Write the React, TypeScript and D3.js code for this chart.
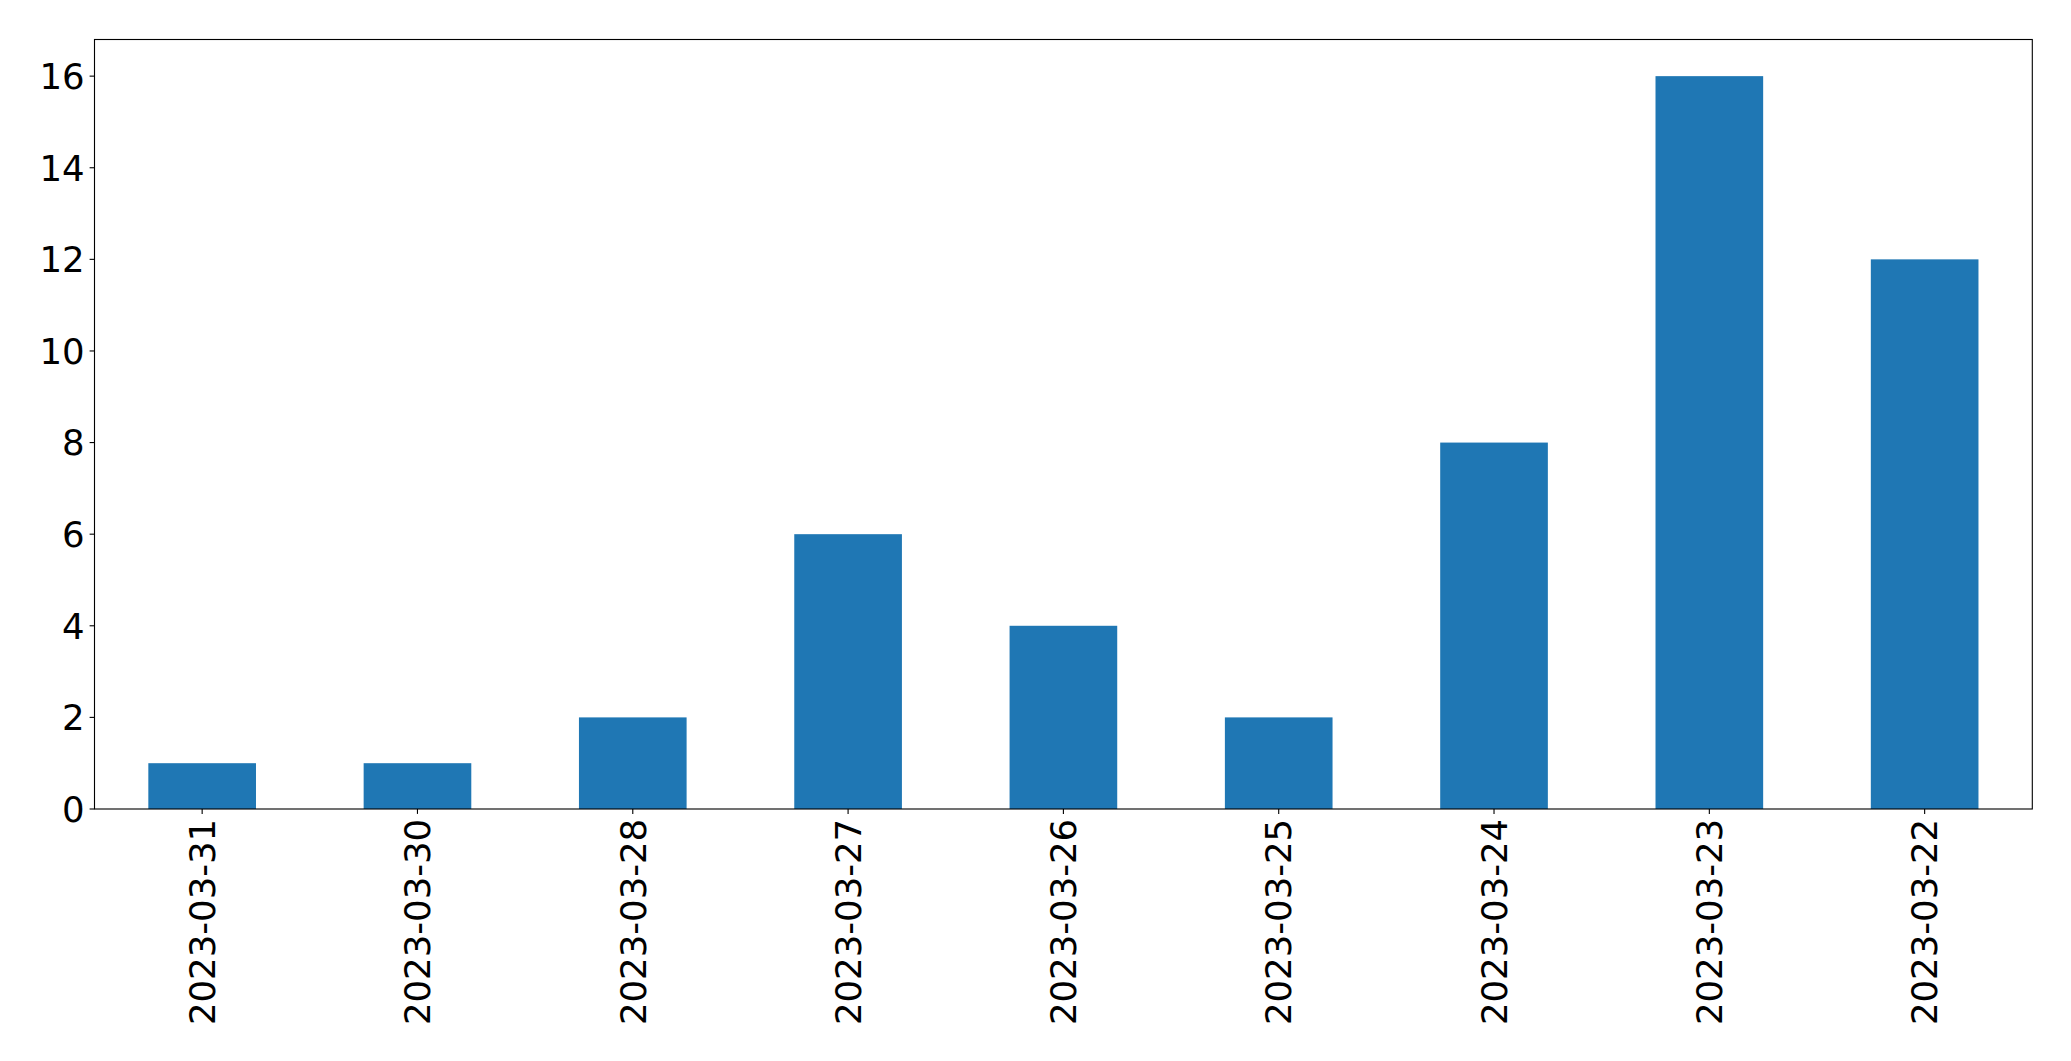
import React from "react";
import * as d3 from "d3";

const categories = [
  "2023-03-31",
  "2023-03-30",
  "2023-03-28",
  "2023-03-27",
  "2023-03-26",
  "2023-03-25",
  "2023-03-24",
  "2023-03-23",
  "2023-03-22",
];
const values = [1, 1, 2, 6, 4, 2, 8, 16, 12];
const yTicks = [0, 2, 4, 6, 8, 10, 12, 14, 16];

const W = 2071;
const H = 1061;
const left = 94.5;
const right = 2032.3;
const top = 39.5;
const bottom = 809;
const fontSize = 35.5;
const tickLen = 4.9;
const pad = 4.9;

export default function App() {
  const x = d3.scaleLinear().domain([-0.5, categories.length - 0.5]).range([left, right]);
  const y = d3.scaleLinear().domain([0, 16.8]).range([bottom, top]);
  const barW = x(0.5) - x(0);
  const font = "'DejaVu Sans', sans-serif";
  return (
    <svg
      width={W}
      height={H}
      style={{ position: "absolute", left: 0, top: 0, background: "#fff" }}
    >
      <rect x={0} y={0} width={W} height={H} fill="#fff" />
      {values.map((v, i) => (
        <rect
          key={i}
          x={x(i) - barW / 2}
          y={y(v)}
          width={barW}
          height={y(0) - y(v)}
          fill="#1f77b4"
        />
      ))}
      <rect
        x={left}
        y={top}
        width={right - left}
        height={bottom - top}
        fill="none"
        stroke="#000"
        strokeWidth={1.11}
      />
      {yTicks.map((t) => (
        <g key={t}>
          <line x1={left - tickLen} x2={left} y1={y(t)} y2={y(t)} stroke="#000" strokeWidth={1.11} />
          <text
            x={left - tickLen - pad}
            y={y(t)}
            dy="0.36em"
            textAnchor="end"
            fontFamily={font}
            fontSize={fontSize}
            fill="#000"
          >
            {t}
          </text>
        </g>
      ))}
      {categories.map((c, i) => (
        <g key={c}>
          <line x1={x(i)} x2={x(i)} y1={bottom} y2={bottom + tickLen} stroke="#000" strokeWidth={1.11} />
          <text
            transform={`translate(${x(i)},${bottom + tickLen + pad}) rotate(-90)`}
            dy="0.36em"
            textAnchor="end"
            fontFamily={font}
            fontSize={fontSize}
            fill="#000"
          >
            {c}
          </text>
        </g>
      ))}
    </svg>
  );
}
